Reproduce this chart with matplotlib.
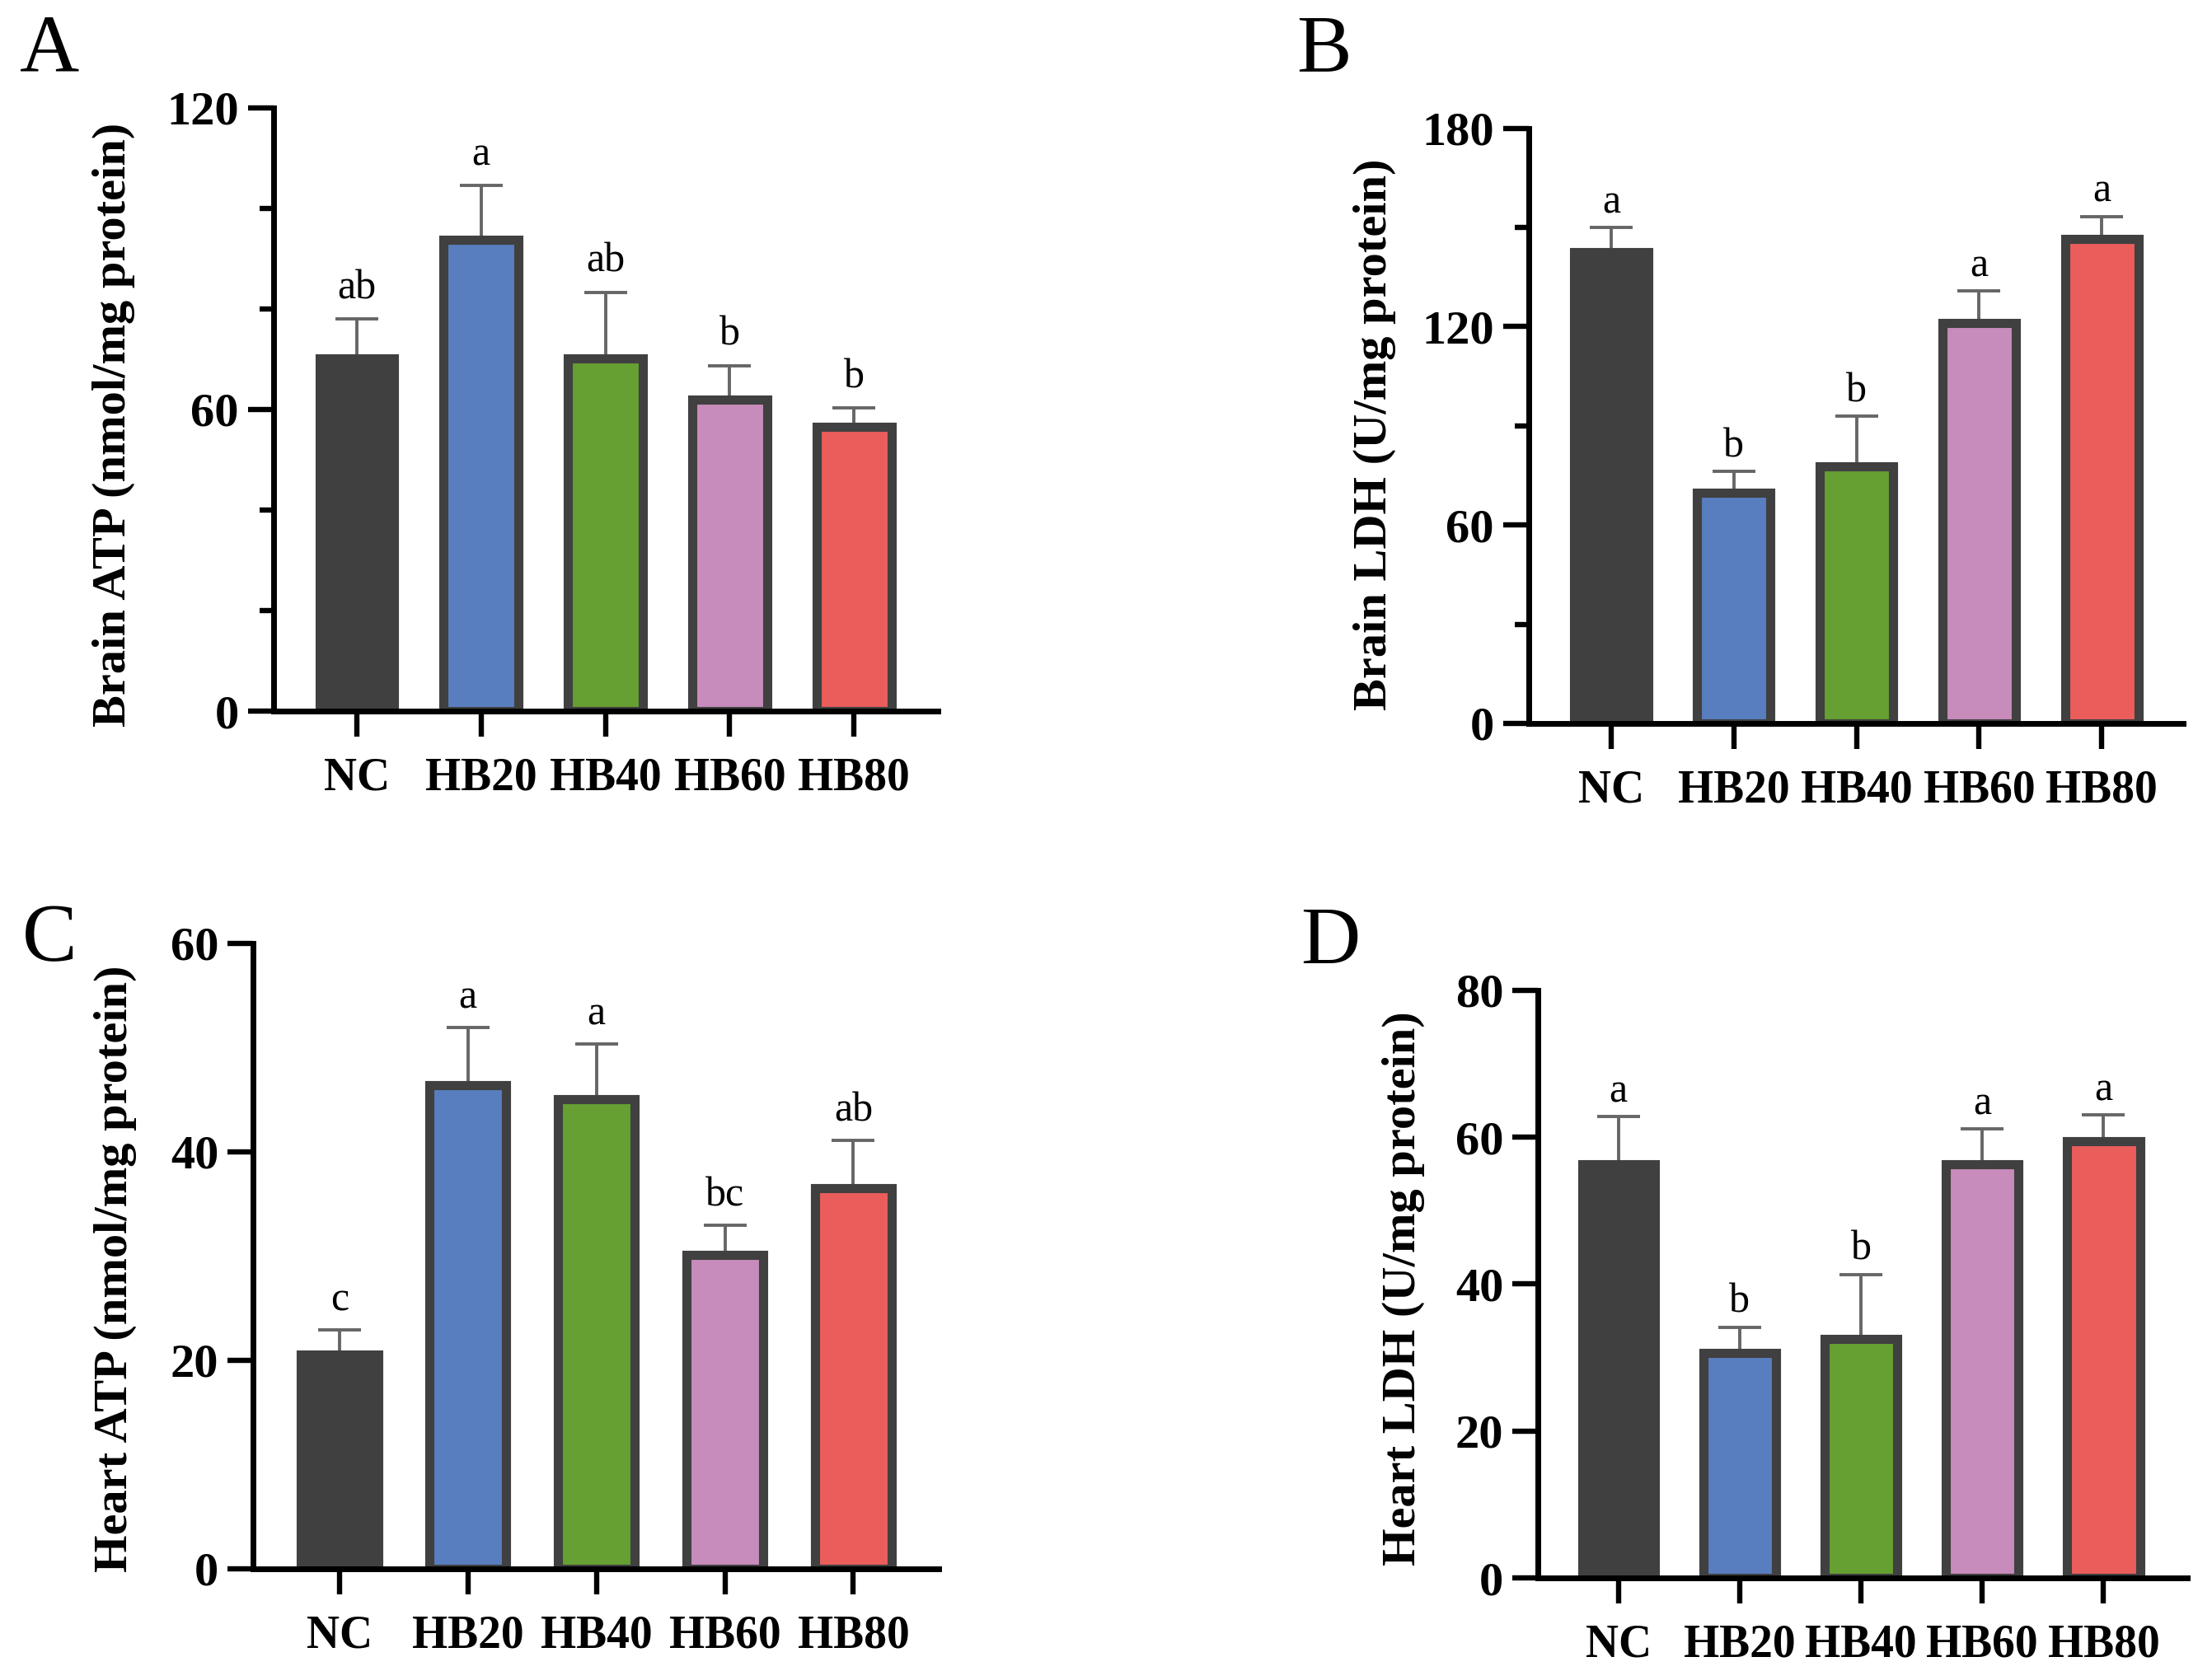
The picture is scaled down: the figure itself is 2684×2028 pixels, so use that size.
import matplotlib
matplotlib.use("Agg")
import matplotlib.pyplot as plt
from matplotlib.ticker import MultipleLocator

plt.rcParams['font.family'] = ['Liberation Serif', 'DejaVu Serif']

groups = ['NC', 'HB20', 'HB40', 'HB60', 'HB80']
colors = ['#404040', '#597EC0', '#66A032', '#C88CBC', '#EB5D5B']

brain_atp = [70.2, 93.8, 70.2, 61.9, 56.5]
brain_atp_err = [7.8, 10.7, 13.1, 6.8, 3.8]
brain_atp_sig = ['ab', 'a', 'ab', 'b', 'b']

brain_ldh = [142.5, 69.8, 77.7, 121.0, 146.5]
brain_ldh_err = [7.5, 6.4, 15.2, 9.8, 6.8]
brain_ldh_sig = ['a', 'b', 'b', 'a', 'a']

heart_atp = [20.5, 46.4, 45.0, 30.1, 36.5]
heart_atp_err = [2.4, 5.5, 5.3, 2.8, 4.6]
heart_atp_sig = ['c', 'a', 'a', 'bc', 'ab']

heart_ldh = [56.3, 30.6, 32.5, 56.3, 59.4]
heart_ldh_err = [6.5, 3.5, 8.8, 4.8, 3.6]
heart_ldh_sig = ['a', 'b', 'b', 'a', 'a']

W, H = 2684, 2028
fig = plt.figure(figsize=(W / 200, H / 200), dpi=200)


def px_axes(x0, y0, x1, y1):
    # pixel box (left, top, right, bottom) -> figure fraction
    return fig.add_axes([x0 / W, 1 - y1 / H, (x1 - x0) / W, (y1 - y0) / H])


def panel(ax, vals, errs, sig, ymax, major, minor, ylabel, xlim, lab_xy, gap):
    x = list(range(len(groups)))
    ax.errorbar(x, vals, yerr=[[0] * len(vals), errs], fmt='none',
                ecolor='#666666', elinewidth=1.4, capsize=9.5, capthick=1.4,
                zorder=1)
    ax.bar(x, vals, width=0.6, color=colors, edgecolor='#404040',
           linewidth=4, zorder=2)
    for xi, v, e, s in zip(x, vals, errs, sig):
        ax.annotate(s, (xi, v + e), xytext=(0, gap), textcoords='offset points',
                    ha='center', va='baseline', fontsize=18)
    ax.set_ylim(0, ymax)
    ax.set_xlim(*xlim)
    ax.yaxis.set_major_locator(MultipleLocator(major))
    if minor:
        ax.yaxis.set_minor_locator(MultipleLocator(minor))
    ax.set_xticks(x)
    ax.set_xticklabels(groups, fontsize=20, fontweight='bold')
    for t in ax.get_yticklabels():
        t.set_fontsize(21)
        t.set_fontweight('bold')
    ax.tick_params(axis='both', which='major', length=11, width=2.3, pad=4)
    ax.tick_params(axis='x', pad=9)
    ax.tick_params(axis='y', which='minor', length=6, width=2.3)
    for s in ['top', 'right']:
        ax.spines[s].set_visible(False)
    for s in ['left', 'bottom']:
        ax.spines[s].set_linewidth(2.5)
    ax.set_ylabel(ylabel, fontsize=21, fontweight='bold', va='center')
    ax.yaxis.set_label_coords(*lab_xy)


axA = px_axes(331.6, 130.8, 1138.5, 863)
panel(axA, brain_atp, brain_atp_err, brain_atp_sig, 120, 60, 20,
      'Brain ATP (nmol/mg protein)', (-0.671, 4.677), (-0.240, 0.475), 9)

axB = px_axes(1854.6, 155.7, 2649, 878)
panel(axB, brain_ldh, brain_ldh_err, brain_ldh_sig, 180, 60, 30,
      'Brain LDH (U/mg protein)', (-0.674, 4.663), (-0.235, 0.485), 6.5)

axC = px_axes(307, 1144.8, 1138.5, 1903.5)
panel(axC, heart_atp, heart_atp_err, heart_atp_sig, 60, 20, None,
      'Heart ATP (nmol/mg protein)', (-0.672, 4.661), (-0.201, 0.479), 8.5)

axD = px_axes(1865.8, 1201.7, 2653.7, 1915)
panel(axD, heart_ldh, heart_ldh_err, heart_ldh_sig, 80, 20, None,
      'Heart LDH (U/mg protein)', (-0.665, 4.688), (-0.207, 0.493), 6.5)

for letter, (px, py) in zip('ABCD', [(60.6, 62), (1606, 62),
                                      (60.6, 1141.5), (1614.7, 1144.8)]):
    fig.text(px / W, 1 - py / H, letter, fontsize=36, ha='center', va='center')

fig.savefig('out.png', dpi=200, facecolor='white')
